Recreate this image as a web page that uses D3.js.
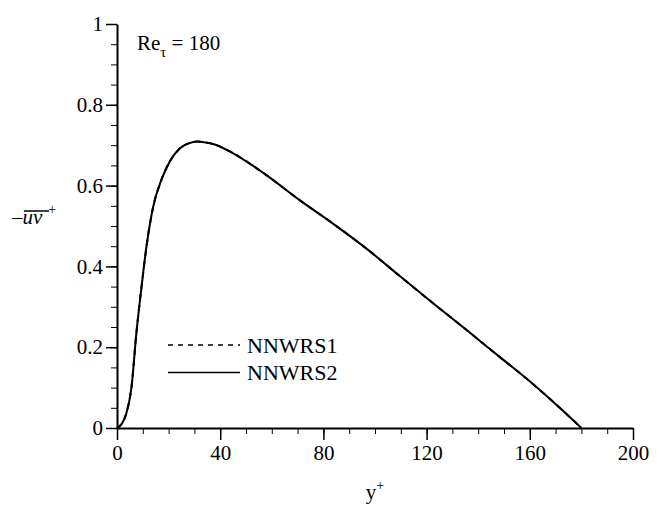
<!DOCTYPE html>
<html>
<head>
<meta charset="utf-8">
<script src="https://cdn.jsdelivr.net/npm/d3@7"></script>
<style>
  body { margin: 0; background: #fff; }
</style>
</head>
<body>
<div id="chart"></div>
<script>
// chart data
var yPlus = [0, 2, 3.6, 5.6, 7.5, 9.5, 11.4, 14, 17.2, 20.4, 24.3, 28, 31, 34, 37.2, 45, 57.9, 70.8, 83.7, 96.7, 109.6, 122.5, 135.4, 148.3, 161.2, 171.6, 180];
var uvPlus = [0, 0.012, 0.036, 0.10, 0.234, 0.349, 0.448, 0.547, 0.614, 0.659, 0.692, 0.705, 0.709, 0.707, 0.703, 0.680, 0.626, 0.564, 0.506, 0.444, 0.376, 0.309, 0.243, 0.176, 0.109, 0.050, 0];
var seriesNames = ["NNWRS1", "NNWRS2"];
var xTicks = [0, 40, 80, 120, 160, 200];
var yTicks = [0, 0.2, 0.4, 0.6, 0.8, 1];

var FONT = "'Liberation Serif', 'DejaVu Serif', 'Noto Serif', Tinos, serif";

var svgWidth = 659;
var svgHeight = 510;
var margin = { top: 24, right: 26, bottom: 82, left: 117 };
var width = svgWidth - margin.left - margin.right;
var height = svgHeight - margin.top - margin.bottom;

var svg = d3.select("#chart").append("svg")
  .attr("width", svgWidth)
  .attr("height", svgHeight)
  .attr("font-family", FONT);

var chartGroup = svg.append("g")
  .attr("transform", `translate(${margin.left}, ${margin.top})`);

var xScale = d3.scaleLinear().domain([0, 200]).range([0, width]);
var yScale = d3.scaleLinear().domain([0, 1]).range([height, 0]);

// minor ticks first, then major axis on top
chartGroup.append("g")
  .attr("transform", `translate(0, ${height})`)
  .call(d3.axisBottom(xScale).tickValues(d3.range(0, 201, 10)).tickSize(6).tickFormat(""))
  .call(g => g.select(".domain").remove());
chartGroup.append("g")
  .call(d3.axisLeft(yScale).tickValues(d3.range(0, 1.001, 0.05)).tickSize(6).tickFormat(""))
  .call(g => g.select(".domain").remove());

var xAxis = chartGroup.append("g")
  .attr("transform", `translate(0, ${height})`)
  .call(d3.axisBottom(xScale).tickValues(xTicks).tickSize(12).tickPadding(5).tickSizeOuter(0).tickFormat(d3.format("d")));
var yAxis = chartGroup.append("g")
  .call(d3.axisLeft(yScale).tickValues(yTicks).tickSize(11).tickPadding(3).tickSizeOuter(0).tickFormat(d => d));

[xAxis, yAxis].forEach(function(ax) {
  ax.attr("font-family", FONT).attr("font-size", 21);
  ax.selectAll("text").attr("fill", "#000");
  ax.select(".domain").attr("stroke-width", 2);
  ax.selectAll(".tick line").attr("stroke-width", 1.5);
});
chartGroup.selectAll(".tick line").attr("stroke", "#000");

var data = yPlus.map((d, i) => ({ x: d, y: uvPlus[i] }));
var line = d3.line()
  .x(d => xScale(d.x))
  .y(d => yScale(d.y))
  .curve(d3.curveMonotoneX);

// NNWRS1 (dashed) lies under NNWRS2 (solid)
chartGroup.append("path")
  .datum(data)
  .attr("fill", "none")
  .attr("stroke", "#000")
  .attr("stroke-width", 2)
  .attr("stroke-dasharray", "6,5")
  .attr("d", line);
chartGroup.append("path")
  .datum(data)
  .attr("fill", "none")
  .attr("stroke", "#000")
  .attr("stroke-width", 2)
  .attr("d", line);

// legend
var legend = svg.append("g");
seriesNames.forEach(function(name, i) {
  var ly = 345 + i * 27.5;
  legend.append("line")
    .attr("x1", 168).attr("x2", 240)
    .attr("y1", ly).attr("y2", ly)
    .attr("stroke", "#000")
    .attr("stroke-width", 1.5)
    .attr("stroke-dasharray", i === 0 ? "5,5" : null);
  legend.append("text")
    .attr("x", 247).attr("y", ly + 7.5)
    .attr("font-size", 22)
    .text(name);
});

// Re_tau label
var reLabel = svg.append("text")
  .attr("x", 137).attr("y", 50)
  .attr("font-size", 21);
reLabel.append("tspan").text("Re");
reLabel.append("tspan").attr("dy", 7).attr("font-size", 15).text("\u03C4");
reLabel.append("tspan").attr("dy", -7).text(" = 180");

// x axis title
var xTitle = svg.append("text")
  .attr("x", 375).attr("y", 499)
  .attr("text-anchor", "middle")
  .attr("font-size", 21);
xTitle.append("tspan").text("y");
xTitle.append("tspan").attr("dy", -9).attr("font-size", 14).text("+");

// y axis title: -uv+ with overline
var yTitle = svg.append("text")
  .attr("x", 12).attr("y", 224)
  .attr("font-size", 21);
yTitle.append("tspan").text("\u2013");
yTitle.append("tspan").attr("font-style", "italic").text("uv");
yTitle.append("tspan").attr("dx", 6).attr("dy", -10).attr("font-size", 14).text("+");
svg.append("line")
  .attr("x1", 24).attr("x2", 49)
  .attr("y1", 211).attr("y2", 211)
  .attr("stroke", "#000").attr("stroke-width", 1.5);
</script>
</body>
</html>
